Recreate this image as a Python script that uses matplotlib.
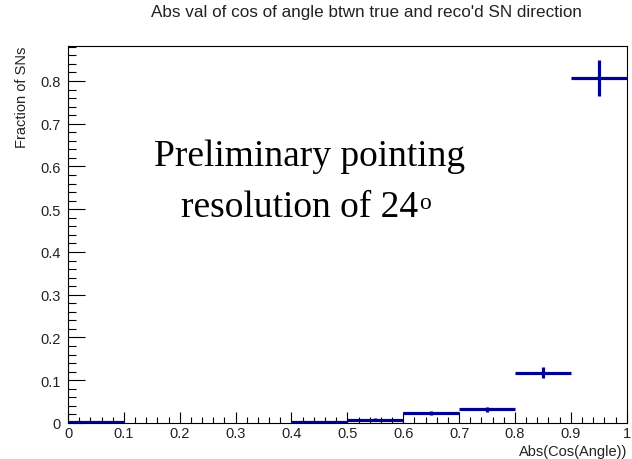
import numpy as np
import matplotlib
matplotlib.use('Agg')
import matplotlib.pyplot as plt
from matplotlib.ticker import MultipleLocator

# bin edges and content (fraction of SNs per bin)
bin_lo = [0.0, 0.4, 0.5, 0.6, 0.7, 0.8, 0.9]
bin_hi = [0.1, 0.5, 0.6, 0.7, 0.8, 0.9, 1.0]
frac = [0.002, 0.002, 0.008, 0.023, 0.032, 0.118, 0.807]
err = [0.002, 0.002, 0.004, 0.005, 0.006, 0.012, 0.041]

blue = '#000092'

fig = plt.figure(figsize=(6.32, 4.6), dpi=100)
ax = fig.add_axes([0.1076, 0.0783, 0.884, 0.8197])

for lo, hi, f, e in zip(bin_lo, bin_hi, frac, err):
    c = 0.5 * (lo + hi)
    ax.plot([lo, hi], [f, f], color=blue, lw=2.3, solid_capstyle='butt', zorder=3)
    ax.plot([c, c], [f - e, f + e], color=blue, lw=2.3, solid_capstyle='butt', zorder=3)

ax.set_xlim(0, 1)
ax.set_ylim(0, 0.882)

ax.xaxis.set_major_locator(MultipleLocator(0.1))
ax.xaxis.set_minor_locator(MultipleLocator(0.02))
ax.yaxis.set_major_locator(MultipleLocator(0.1))
ax.yaxis.set_minor_locator(MultipleLocator(0.02))
ax.xaxis.set_major_formatter(plt.FuncFormatter(lambda v, p: '%g' % round(v, 2)))
ax.yaxis.set_major_formatter(plt.FuncFormatter(lambda v, p: '%g' % round(v, 2)))

ax.tick_params(which='both', direction='in', labelsize=10.5, width=0.8,
               top=False, right=False)
ax.tick_params(axis='x', which='major', length=8, pad=2)
ax.tick_params(axis='x', which='minor', length=4)
ax.tick_params(axis='y', which='major', length=12.5, pad=5)
ax.tick_params(axis='y', which='minor', length=6)
for sp in ax.spines.values():
    sp.set_linewidth(0.8)

for lbl in ax.get_xticklabels() + ax.get_yticklabels():
    lbl.set_family('Liberation Sans')
    lbl.set_color('#222222')

fig.text(0.58, 0.972, "Abs val of cos of angle btwn true and reco'd SN direction",
         ha='center', va='center', fontsize=12.3, color='#222222',
         family='Liberation Sans')
fig.text(0.035, 0.898, 'Fraction of SNs', rotation=90, ha='center', va='top',
         fontsize=10.5, color='#222222', family='Liberation Sans')
fig.text(0.992, 0.018, 'Abs(Cos(Angle))', ha='right', va='center',
         fontsize=10.5, color='#222222', family='Liberation Sans')

t1 = ax.text(0.433, 0.755, 'Preliminary pointing', transform=ax.transAxes,
             ha='center', va='top', fontsize=27, family='Liberation Serif')
t2 = ax.text(0.415, 0.62, 'resolution of 24', transform=ax.transAxes,
             ha='center', va='top', fontsize=27, family='Liberation Serif')
ax.annotate('o', xy=(1, 0.93), xycoords=t2, xytext=(0.3, 0), textcoords='offset points',
            ha='left', va='top', fontsize=17, family='Liberation Serif')

fig.savefig('out.png', dpi=100)
